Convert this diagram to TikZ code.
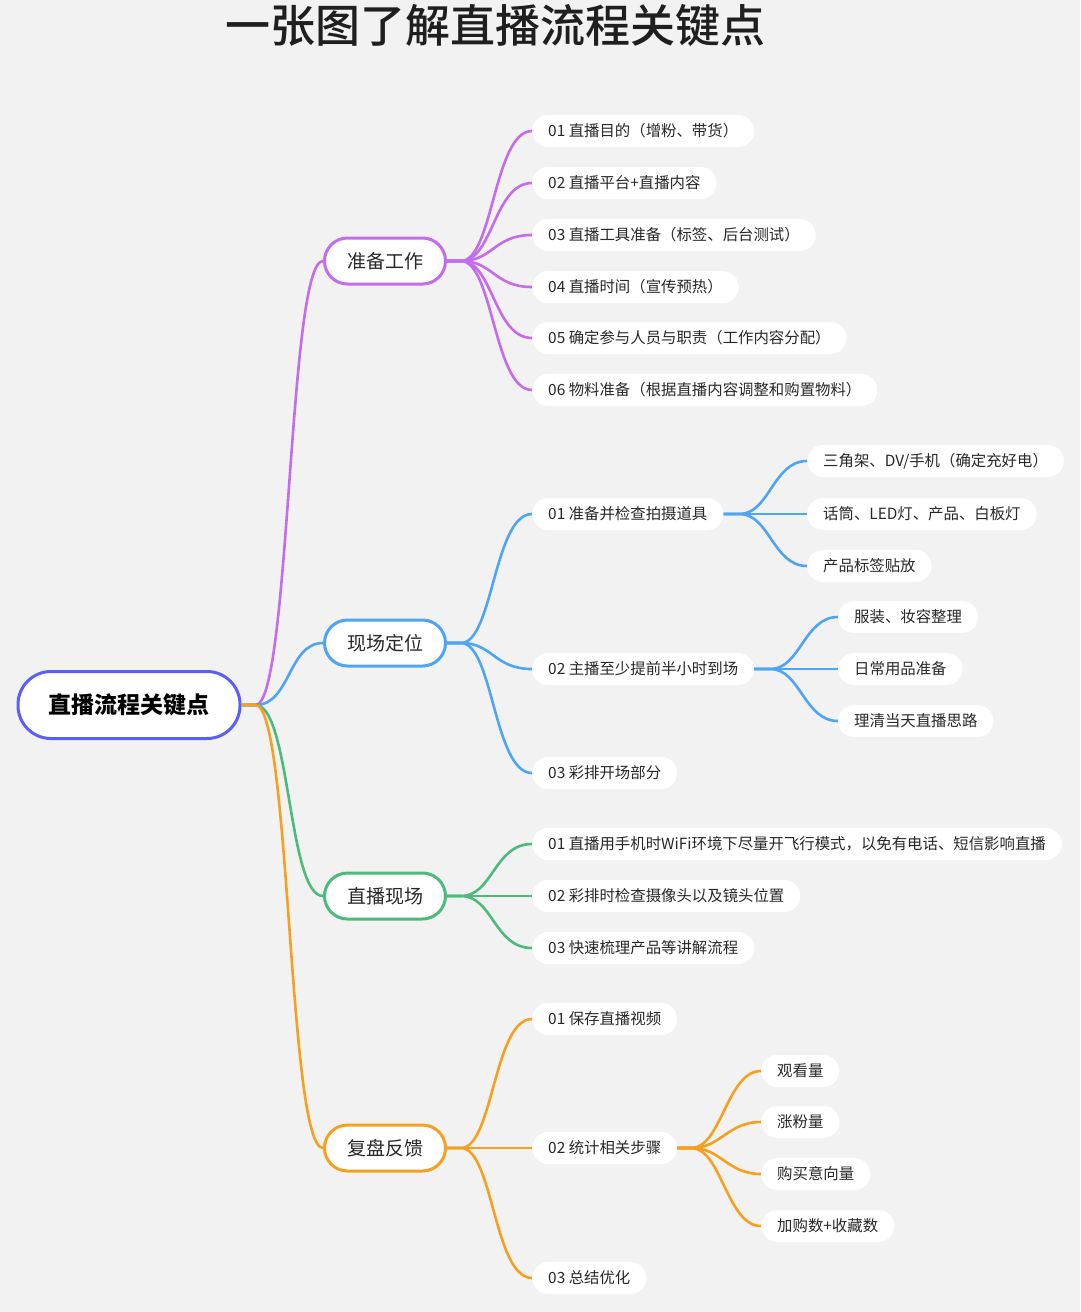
\documentclass[tikz,border=0pt]{standalone}
\usepackage{fontspec}
\setmainfont{Noto Sans CJK SC}
\newfontfamily\titlefont{Noto Sans CJK SC Medium}
\usetikzlibrary{positioning}
\definecolor{mapbg}{RGB}{242,242,242}
\definecolor{mapink}{RGB}{40,40,40}
\definecolor{maproot}{RGB}{90,96,245}
\definecolor{mappurple}{RGB}{196,108,236}
\definecolor{mapblue}{RGB}{78,164,245}
\definecolor{mapgreen}{RGB}{76,186,122}
\definecolor{maporange}{RGB}{247,160,32}
\tikzset{rootbox/.style={draw=maproot,line width=3pt,fill=white,rounded corners=33pt,minimum width=222pt,minimum height=67pt,font=\fontsize{23}{26}\selectfont\bfseries,text=black},
  topicbox/.style={draw=#1,line width=3pt,fill=white,rounded corners=23pt,minimum width=121pt,minimum height=46pt,font=\fontsize{19}{22}\selectfont,text=mapink},
  leafbox/.style={fill=white,rounded corners=16pt,minimum height=32pt,inner xsep=16pt,anchor=west,font=\fontsize{15.4}{18}\selectfont,text=mapink},
  branch/.style={line width=2.6pt,draw=#1}}

\begin{document}
\begin{tikzpicture}[x=1pt,y=-1pt]
\fill[mapbg] (0,0) rectangle (1080,1312);
\useasboundingbox (0,0) rectangle (1080,1312);
\node[font=\fontsize{45}{50}\selectfont\titlefont,text=black!88] (title) at (495,26) {一张图了解直播流程关键点};

\node[rootbox] (root) at (129,705) {直播流程关键点};
\node[topicbox=mappurple] (prep) at (385,261) {准备工作};
\node[topicbox=mapblue] (scene) at (385,643) {现场定位};
\node[topicbox=mapgreen] (live) at (385,896) {直播现场};
\node[topicbox=maporange] (review) at (385,1148) {复盘反馈};

\node[leafbox] (p1) at (532,131) {01 直播目的（增粉、带货）};
\node[leafbox] (p2) at (532,183) {02 直播平台+直播内容};
\node[leafbox] (p3) at (532,235) {03 直播工具准备（标签、后台测试）};
\node[leafbox] (p4) at (532,287) {04 直播时间（宣传预热）};
\node[leafbox] (p5) at (532,338) {05 确定参与人员与职责（工作内容分配）};
\node[leafbox] (p6) at (532,390) {06 物料准备（根据直播内容调整和购置物料）};

\node[leafbox] (s1) at (532,514) {01 准备并检查拍摄道具};
\node[leafbox] (s1a) at (807,461) {三角架、DV/手机（确定充好电）};
\node[leafbox] (s1b) at (807,514) {话筒、LED灯、产品、白板灯};
\node[leafbox] (s1c) at (807,566) {产品标签贴放};
\node[leafbox] (s2) at (532,669) {02 主播至少提前半小时到场};
\node[leafbox] (s2a) at (838,617) {服装、妆容整理};
\node[leafbox] (s2b) at (838,669) {日常用品准备};
\node[leafbox] (s2c) at (838,721) {理清当天直播思路};
\node[leafbox] (s3) at (532,773) {03 彩排开场部分};

\node[leafbox] (l1) at (532,844) {01 直播用手机时WiFi环境下尽量开飞行模式，以免有电话、短信影响直播};
\node[leafbox] (l2) at (532,896) {02 彩排时检查摄像头以及镜头位置};
\node[leafbox] (l3) at (532,948) {03 快速梳理产品等讲解流程};

\node[leafbox] (r1) at (532,1019) {01 保存直播视频};
\node[leafbox] (r2) at (532,1148) {02 统计相关步骤};
\node[leafbox] (r2a) at (761,1071) {观看量};
\node[leafbox] (r2b) at (761,1122) {涨粉量};
\node[leafbox] (r2c) at (761,1174) {购买意向量};
\node[leafbox] (r2d) at (761,1226) {加购数+收藏数};
\node[leafbox] (r3) at (532,1278) {03 总结优化};

\draw[branch=mappurple] (root.east) -- ++(14,0) .. controls +(35,0) and +(-35,0) .. (prep.west);
\draw[branch=mapblue] (root.east) -- ++(14,0) .. controls +(35,0) and +(-35,0) .. (scene.west);
\draw[branch=mapgreen] (root.east) -- ++(14,0) .. controls +(35,0) and +(-35,0) .. (live.west);
\draw[branch=maporange] (root.east) -- ++(14,0) .. controls +(35,0) and +(-35,0) .. (review.west);

\draw[branch=mappurple] (prep.east) -- ++(14,0) .. controls +(32,0) and +(-38,0) .. (p1.west);
\draw[branch=mappurple] (prep.east) -- ++(14,0) .. controls +(32,0) and +(-38,0) .. (p2.west);
\draw[branch=mappurple] (prep.east) -- ++(14,0) .. controls +(32,0) and +(-38,0) .. (p3.west);
\draw[branch=mappurple] (prep.east) -- ++(14,0) .. controls +(32,0) and +(-38,0) .. (p4.west);
\draw[branch=mappurple] (prep.east) -- ++(14,0) .. controls +(32,0) and +(-38,0) .. (p5.west);
\draw[branch=mappurple] (prep.east) -- ++(14,0) .. controls +(32,0) and +(-38,0) .. (p6.west);

\draw[branch=mapblue] (scene.east) -- ++(14,0) .. controls +(32,0) and +(-38,0) .. (s1.west);
\draw[branch=mapblue] (scene.east) -- ++(14,0) .. controls +(32,0) and +(-38,0) .. (s2.west);
\draw[branch=mapblue] (scene.east) -- ++(14,0) .. controls +(32,0) and +(-38,0) .. (s3.west);
\draw[branch=mapblue] (s1.east) -- ++(16,0) .. controls +(30,0) and +(-34,0) .. (s1a.west);
\draw[branch=mapblue] (s1.east) -- ++(16,0) .. controls +(30,0) and +(-34,0) .. (s1b.west);
\draw[branch=mapblue] (s1.east) -- ++(16,0) .. controls +(30,0) and +(-34,0) .. (s1c.west);
\draw[branch=mapblue] (s2.east) -- ++(16,0) .. controls +(30,0) and +(-34,0) .. (s2a.west);
\draw[branch=mapblue] (s2.east) -- ++(16,0) .. controls +(30,0) and +(-34,0) .. (s2b.west);
\draw[branch=mapblue] (s2.east) -- ++(16,0) .. controls +(30,0) and +(-34,0) .. (s2c.west);

\draw[branch=mapgreen] (live.east) -- ++(14,0) .. controls +(32,0) and +(-38,0) .. (l1.west);
\draw[branch=mapgreen] (live.east) -- ++(14,0) .. controls +(32,0) and +(-38,0) .. (l2.west);
\draw[branch=mapgreen] (live.east) -- ++(14,0) .. controls +(32,0) and +(-38,0) .. (l3.west);

\draw[branch=maporange] (review.east) -- ++(14,0) .. controls +(32,0) and +(-38,0) .. (r1.west);
\draw[branch=maporange] (review.east) -- ++(14,0) .. controls +(32,0) and +(-38,0) .. (r2.west);
\draw[branch=maporange] (review.east) -- ++(14,0) .. controls +(32,0) and +(-38,0) .. (r3.west);
\draw[branch=maporange] (r2.east) -- ++(14,0) .. controls +(30,0) and +(-34,0) .. (r2a.west);
\draw[branch=maporange] (r2.east) -- ++(14,0) .. controls +(30,0) and +(-34,0) .. (r2b.west);
\draw[branch=maporange] (r2.east) -- ++(14,0) .. controls +(30,0) and +(-34,0) .. (r2c.west);
\draw[branch=maporange] (r2.east) -- ++(14,0) .. controls +(30,0) and +(-34,0) .. (r2d.west);
\end{tikzpicture}
\end{document}
